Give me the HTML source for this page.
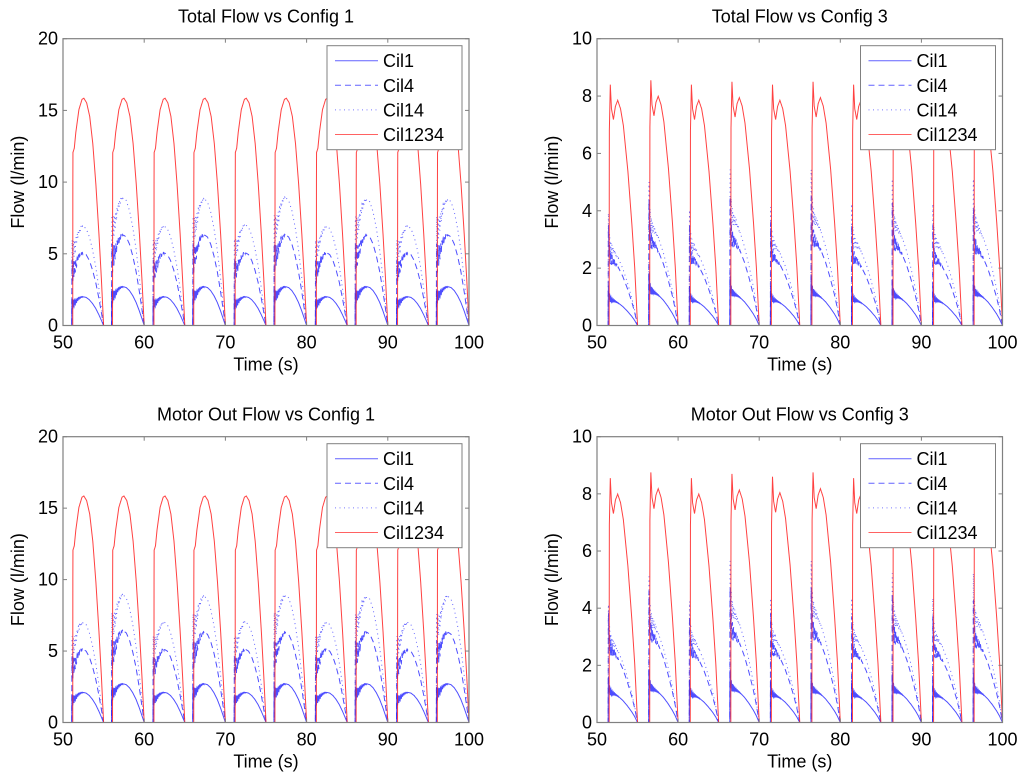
<!DOCTYPE html>
<html><head><meta charset="utf-8"><style>
body{margin:0;background:#fff}
svg{display:block}
text{font-family:"Liberation Sans",sans-serif;fill:#000}
</style></head><body>
<svg id="fig" width="1024" height="782" viewBox="0 0 1024 782" xmlns="http://www.w3.org/2000/svg"></svg>
<script>
// ---- data ----
const xTicks = [50,60,70,80,90,100];
const yTicksC1 = [0,5,10,15,20];
const yTicksC3 = [0,2,4,6,8,10];
const seriesNames = ["Cil1","Cil4","Cil14","Cil1234"];
// config 1 pulses
const c1Starts = [51.2,56.1,61.2,66.1,71.2,76.1,81.2,86.1,91.2,96.1];
const c1Ends = [55,60,65,70,75,80,85,90,95,100];
const c1Cil1 = [2.0,2.7,2.0,2.7,2.0,2.7,2.0,2.7,2.0,2.7];
const c1Cil4 = [5.05,6.3,5.05,6.3,5.05,6.3,5.05,6.3,5.05,6.3];
const c1Cil14 = [6.9,8.9,6.9,8.8,7.0,8.9,6.9,8.8,6.9,8.8];
const c1Cil1234 = [15.85,15.85,15.85,15.85,15.85,15.85,15.85,15.85,15.85,15.85];
const m1Cil1 = [2.1,2.7,2.1,2.7,2.1,2.7,2.1,2.7,2.1,2.7];
const m1Cil4 = [5.1,6.4,5.1,6.3,5.1,6.3,5.1,6.3,5.1,6.3];
const m1Cil14 = [7.0,8.9,7.0,8.8,7.0,8.9,7.0,8.8,7.0,8.8];
const m1Cil1234 = [15.85,15.85,15.85,15.85,15.85,15.85,15.85,15.85,15.85,15.85];
// config 3 pulses
const c3Starts = [51.5,56.5,61.5,66.5,71.5,76.5,81.5,86.5,91.5,96.5];
const c3Ends = [55,60,65,70,75,80,85,90,95,100];
const c3Cil1 = [1.2,1.6,1.2,1.5,1.2,1.5,1.2,1.4,1.2,1.5];
const c3Cil4 = [3.1,3.9,3.1,4.0,3.2,4.0,3.1,3.8,3.1,3.6];
const c3Cil14 = [3.6,4.6,3.7,5.0,3.8,5.0,3.9,4.7,3.9,4.7];
const c3Cil1234 = [8.4,8.55,8.4,8.5,8.4,8.5,8.4,8.45,8.4,8.45];
const m3Cil1 = [1.4,1.6,1.3,1.6,1.3,1.5,1.3,1.5,1.3,1.5];
const m3Cil4 = [3.4,4.1,3.3,4.2,3.4,4.2,3.3,4.0,3.3,3.8];
const m3Cil14 = [3.8,4.7,3.9,5.2,4.0,5.2,4.0,4.8,4.0,4.8];
const m3Cil1234 = [8.55,8.75,8.55,8.7,8.6,8.75,8.55,8.65,8.55,8.6];

// ---- normalized pulse shapes ----
const shapeRed1 = [[0,0],[0.004,0.76],[0.05,0.78],[0.1,0.85],[0.2,0.95],[0.3,0.995],[0.36,1],[0.45,0.98],[0.55,0.92],[0.65,0.8],[0.75,0.62],[0.85,0.4],[0.93,0.2],[1,0]];
const shapeBlue1 = [[0,0],[0.004,0.72],[0.1,0.8],[0.2,0.93],[0.3,0.995],[0.37,1],[0.45,0.98],[0.55,0.9],[0.65,0.77],[0.75,0.6],[0.85,0.38],[0.93,0.18],[1,0]];
const shapeRed3 = [[0,0],[0.005,0.8],[0.04,1.0],[0.08,0.9],[0.15,0.855],[0.22,0.91],[0.3,0.935],[0.4,0.9],[0.5,0.83],[0.66,0.64],[0.8,0.42],[0.9,0.24],[1,0]];
const shapeBlue3 = [[0,0],[0.004,1],[0.05,0.8],[0.1,0.75],[0.2,0.72],[0.35,0.65],[0.5,0.55],[0.65,0.42],[0.8,0.27],[0.9,0.15],[1,0]];

const NS="http://www.w3.org/2000/svg";
const svg=document.getElementById('fig');
function el(tag,attrs,parent){const e=document.createElementNS(NS,tag);for(const k in attrs)e.setAttribute(k,attrs[k]);(parent||svg).appendChild(e);return e;}
function interp(shape,u){for(let i=1;i<shape.length;i++){if(u<=shape[i][0]){const a=shape[i-1],b=shape[i];const f=(u-a[0])/(b[0]-a[0]||1);return a[1]+f*(b[1]-a[1]);}}return 0;}

function panel(pi,cfg){
  const g=el('g',{});
  
  
  const {x0,x1,y0,y1,ymax,yTicks}=cfg;
  const sx=v=>x0+(v-50)/50*(x1-x0);
  const sy=v=>y1-v/ymax*(y1-y0);
  const title=el('text',{x:(x0+x1)/2,y:y0-16,'text-anchor':'middle','font-size':18},g);
  title.textContent=cfg.title;
  
  
  const clip=el('clipPath',{id:'clip'+pi},g);
  el('rect',{x:x0,y:y0,width:x1-x0,height:y1-y0},clip);
  const plot=el('g',{'clip-path':'url(#clip'+pi+')'},g);
  const styles=[
    {stroke:'#2020ff',dash:'',shape:cfg.blueShape,osc:0.22*cfg.oscScale},
    {stroke:'#2020ff',dash:'6,4',shape:cfg.blueShape,osc:0.2*cfg.oscScale},
    {stroke:'#4040ff',dash:'1,3.5',shape:cfg.blueShape,osc:0.15*cfg.oscScale},
    {stroke:'#ff2020',dash:'',shape:cfg.redShape,osc:0}
  ];
  cfg.series.forEach((vals,si)=>{
    const st=styles[si];
    let d='M'+sx(50)+','+sy(0);
    cfg.starts.forEach((s,k)=>{
      const e=cfg.ends[k];const pk=vals[k];
      const s0=si<3?s-0.12:s;
      d+=' L'+sx(s0).toFixed(2)+','+sy(0).toFixed(2);
      const N=300;
      for(let i=1;i<=N;i++){
        const u=i/N;
        let v=interp(st.shape,u)*pk;
        if(st.osc&&u<0.35&&u>0.004){v+=st.osc*pk*Math.exp(-u/0.12)*Math.sin(u*2*Math.PI*25);}
        d+=' L'+sx(s0+u*(e-s0)).toFixed(2)+','+sy(Math.max(0,v)).toFixed(2);
      }
    });
    d+=' L'+sx(100)+','+sy(0);
    const p=el('path',{d:d,fill:'none',stroke:st.stroke,'stroke-width':1,'stroke-dasharray':st.dash,'stroke-opacity':si===3?0.85:0.8},plot);
    
    
  });
  const box=el('rect',{x:x0,y:y0,width:x1-x0,height:y1-y0,fill:'none',stroke:'#808080','stroke-width':1.2},g);
  
  
  xTicks.forEach(t=>{
    const x=sx(t);
    el('line',{x1:x,y1:y1,x2:x,y2:y1-4,stroke:'#808080'},g);
    el('line',{x1:x,y1:y0,x2:x,y2:y0+4,stroke:'#808080'},g);
    const tx=el('text',{x:x,y:y1+23,'text-anchor':'middle','font-size':18},g);
    tx.textContent=t;
    
    
  });
  yTicks.forEach(t=>{
    const y=sy(t);
    el('line',{x1:x0,y1:y,x2:x0+4,y2:y,stroke:'#808080'},g);
    el('line',{x1:x1,y1:y,x2:x1-4,y2:y,stroke:'#808080'},g);
    const ty=el('text',{x:x0-5,y:y+6,'text-anchor':'end','font-size':18},g);
    ty.textContent=t;
    
    
  });
  const xl=el('text',{x:(x0+x1)/2,y:y1+45,'text-anchor':'middle','font-size':18},g);
  xl.textContent='Time (s)';
  
  
  const yc=(y0+y1)/2;
  const yl=el('text',{x:x0-39,y:yc,'text-anchor':'middle','font-size':18,transform:'rotate(-90 '+(x0-39)+' '+yc+')'},g);
  yl.textContent='Flow (l/min)';
  
  
  const lx=x1-142,ly=y0+7;
  const lg=el('g',{},g);
  
  
  el('rect',{x:lx,y:ly,width:135,height:104,fill:'#fff',stroke:'#808080','stroke-width':1},lg);
  seriesNames.forEach((n,i)=>{
    const yy=ly+15+i*24.6;
    const st=styles[i];
    el('line',{x1:lx+8,y1:yy,x2:lx+51,y2:yy,stroke:st.stroke,'stroke-dasharray':st.dash,'stroke-opacity':0.7},lg);
    const lt=el('text',{x:lx+56,y:yy+6.5,'font-size':18},lg);
    lt.textContent=n;
    
    
  });
}

panel(0,{name:'total-flow-config1',title:'Total Flow vs Config 1',x0:63,x1:469,y0:38.7,y1:325.5,ymax:20,yTicks:yTicksC1,starts:c1Starts,ends:c1Ends,series:[c1Cil1,c1Cil4,c1Cil14,c1Cil1234],redShape:shapeRed1,blueShape:shapeBlue1,oscScale:1});
panel(1,{name:'total-flow-config3',title:'Total Flow vs Config 3',x0:597,x1:1002.5,y0:38.7,y1:325.5,ymax:10,yTicks:yTicksC3,starts:c3Starts,ends:c3Ends,series:[c3Cil1,c3Cil4,c3Cil14,c3Cil1234],redShape:shapeRed3,blueShape:shapeBlue3,oscScale:0.8});
panel(2,{name:'motor-out-flow-config1',title:'Motor Out Flow vs Config 1',x0:63,x1:469,y0:436.7,y1:722.5,ymax:20,yTicks:yTicksC1,starts:c1Starts,ends:c1Ends,series:[m1Cil1,m1Cil4,m1Cil14,m1Cil1234],redShape:shapeRed1,blueShape:shapeBlue1,oscScale:1});
panel(3,{name:'motor-out-flow-config3',title:'Motor Out Flow vs Config 3',x0:597,x1:1002.5,y0:436.7,y1:722.5,ymax:10,yTicks:yTicksC3,starts:c3Starts,ends:c3Ends,series:[m3Cil1,m3Cil4,m3Cil14,m3Cil1234],redShape:shapeRed3,blueShape:shapeBlue3,oscScale:0.8});
</script>
</body></html>
